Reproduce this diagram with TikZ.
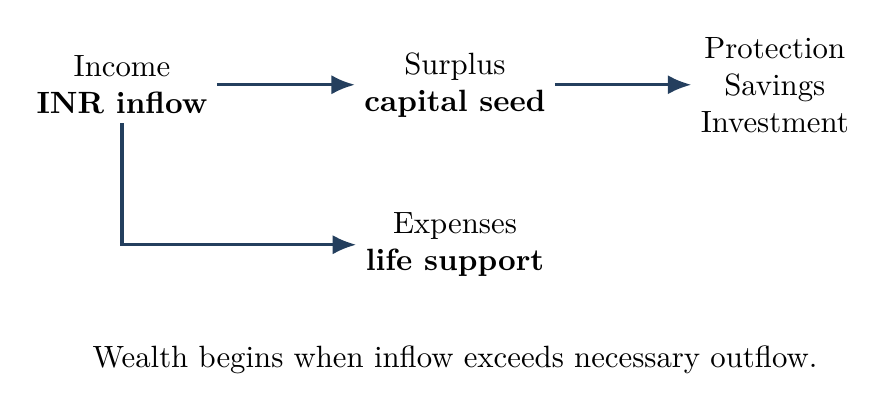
\documentclass[tikz,border=0pt]{standalone}
\usepackage{tikz}
\usetikzlibrary{arrows.meta,positioning}
\definecolor{flowblue}{HTML}{243F5E}
\tikzset{stage/.style={
	align=center,
	inner sep=1mm,
}}
\tikzset{flow/.style={
	draw=flowblue,
	line width=1.1pt,
	-{Latex[length=2.7mm,width=2.2mm]},
}}
\begin{document}
\begin{tikzpicture}
\useasboundingbox (0,0) rectangle (10.13,-4.71);

\node[stage](inc)	at (1.393,-0.968) {Income\\\textbf{INR inflow}};
\node[stage](sur)	at (5.196,-0.968) {Surplus\\\textbf{capital seed}};
\node[stage](pro)	at (8.849,-0.968) {Protection\\Savings\\Investment};
\node[stage](exp)	at (5.196,-2.795) {Expenses\\\textbf{life support}};

\node(note) at (5.196,-4.11) {Wealth begins when inflow exceeds necessary outflow.};

% income splits
\draw[flow] (inc) -- (sur);
\draw[flow] (sur) -- (pro);
\draw[flow] (inc.south) |- (exp.west);

\end{tikzpicture}
\end{document}
